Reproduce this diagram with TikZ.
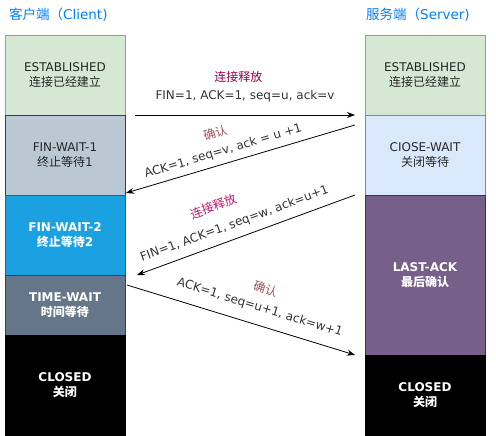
\documentclass[tikz,border=0pt]{standalone}
\usepackage{fontspec}
\setmainfont{DejaVu Sans}
\newfontfamily\cjk[Scale=1.0]{Noto Sans CJK SC}
\usetikzlibrary{positioning,arrows.meta}
\definecolor{titleblue}{RGB}{0,127,255}
\definecolor{estfill}{HTML}{D5E8D4}
\definecolor{estdraw}{HTML}{82B366}
\definecolor{fwafill}{HTML}{BAC8D3}
\definecolor{fwadraw}{HTML}{23445D}
\definecolor{fwbfill}{HTML}{1BA1E2}
\definecolor{fwbdraw}{HTML}{006EAF}
\definecolor{twfill}{HTML}{647687}
\definecolor{twdraw}{HTML}{314354}
\definecolor{cwfill}{HTML}{DAE8FC}
\definecolor{cwdraw}{HTML}{6C8EBF}
\definecolor{lafill}{HTML}{76608A}
\definecolor{ladraw}{HTML}{432D57}
\definecolor{relA}{RGB}{153,0,77}
\definecolor{relB}{RGB}{194,24,107}
\definecolor{ackc}{RGB}{160,82,90}

\begin{document}
\begin{tikzpicture}[x=1pt,y=-1pt,
  box/.style={draw, rectangle, minimum width=120pt, align=center, outer sep=0pt,
    inner sep=0pt, line width=0.8pt, text=black!85, font=\fontsize{12}{15.5}\selectfont},
  darkbox/.style={box, text=white, font=\fontsize{12}{15.5}\selectfont\bfseries},
  side/.style={text=titleblue, font=\fontsize{13.5}{15}\selectfont, inner sep=0pt, anchor=west},
  msg/.style={-{Stealth[length=8pt,width=6pt]}, line width=0.8pt},
  lbl/.style={sloped, text=black!80, inner sep=1pt, font=\fontsize{12}{14}\selectfont}]
  \useasboundingbox (0,0) rectangle (496,436);

  % titles
  \node[side] (ctitle) at (9,15) {{\cjk 客户端（}Client)};
  \node[side] (stitle) at (366,15) {{\cjk 服务端（}Server)};

  % client states
  \node[box, fill=estfill, draw=estdraw, minimum height=80pt] (est1) at (65,75)
    {ESTABLISHED\\{\cjk 连接已经建立}};
  \node[box, fill=fwafill, draw=fwadraw, minimum height=80pt, below=0pt of est1] (fw1)
    {FIN-WAIT-1\\{\cjk 终止等待}1};
  \node[darkbox, fill=fwbfill, draw=fwbdraw, minimum height=80pt, below=0pt of fw1] (fw2)
    {FIN-WAIT-2\\{\cjk 终止等待}2};
  \node[darkbox, fill=twfill, draw=twdraw, minimum height=60pt, below=0pt of fw2] (tw)
    {TIME-WAIT\\{\cjk 时间等待}};
  \node[darkbox, fill=black, draw=black, minimum height=100pt, below=0pt of tw] (cl1)
    {CLOSED\\{\cjk 关闭}};

  % server states
  \node[box, fill=estfill, draw=estdraw, minimum height=80pt] (est2) at (425,75)
    {ESTABLISHED\\{\cjk 连接已经建立}};
  \node[box, fill=cwfill, draw=cwdraw, minimum height=80pt, below=0pt of est2] (cw)
    {CIOSE-WAIT\\{\cjk 关闭等待}};
  \node[darkbox, fill=lafill, draw=ladraw, minimum height=160pt, below=0pt of cw] (la)
    {LAST-ACK\\{\cjk 最后确认}};
  \node[darkbox, fill=black, draw=black, minimum height=80pt, below=0pt of la] (cl2)
    {CLOSED\\{\cjk 关闭}};

  % ends of the messages
  \coordinate (p1) at ([shift={(10,0)}]est1.south east);
  \coordinate (p2) at ([shift={(-10,0)}]est2.south west);
  \coordinate (p3) at ([shift={(-10,10)}]cw.north west);
  \coordinate (p4) at ([shift={(1,-2)}]fw1.south east);
  \coordinate (p5) at ([shift={(-10,0)}]la.north west);
  \coordinate (p6) at ([shift={(12,0)}]fw2.south east);
  \coordinate (p7) at ([shift={(2,10)}]tw.north east);
  \coordinate (p8) at ([shift={(-10,0)}]la.south west);

  % messages
  \draw[msg] (p1) -- node[lbl, above=12pt] (m1) {FIN=1, ACK=1, seq=u, ack=v}
    node[lbl, above=31pt, pos=0.47, text=relA] (t1) {\cjk 连接释放} (p2);
  \draw[msg] (p3) -- node[lbl, above=5pt, pos=0.56] (m2) {ACK=1, seq=v, ack = u +1}
    node[lbl, above=25pt, pos=0.57, text=ackc] (t2) {\cjk 确认} (p4);
  \draw[msg] (p5) -- node[lbl, above=7pt, pos=0.53] (m3) {FIN=1, ACK=1, seq=w, ack=u+1}
    node[lbl, above=31pt, pos=0.59, text=relB] (t3) {\cjk 连接释放} (p6);
  \draw[msg] (p7) -- node[lbl, above=10pt, pos=0.56] (m4) {ACK=1, seq=u+1, ack=w+1}
    node[lbl, above=30pt, pos=0.56, text=ackc] (t4) {\cjk 确认} (p8);
\end{tikzpicture}
\end{document}
